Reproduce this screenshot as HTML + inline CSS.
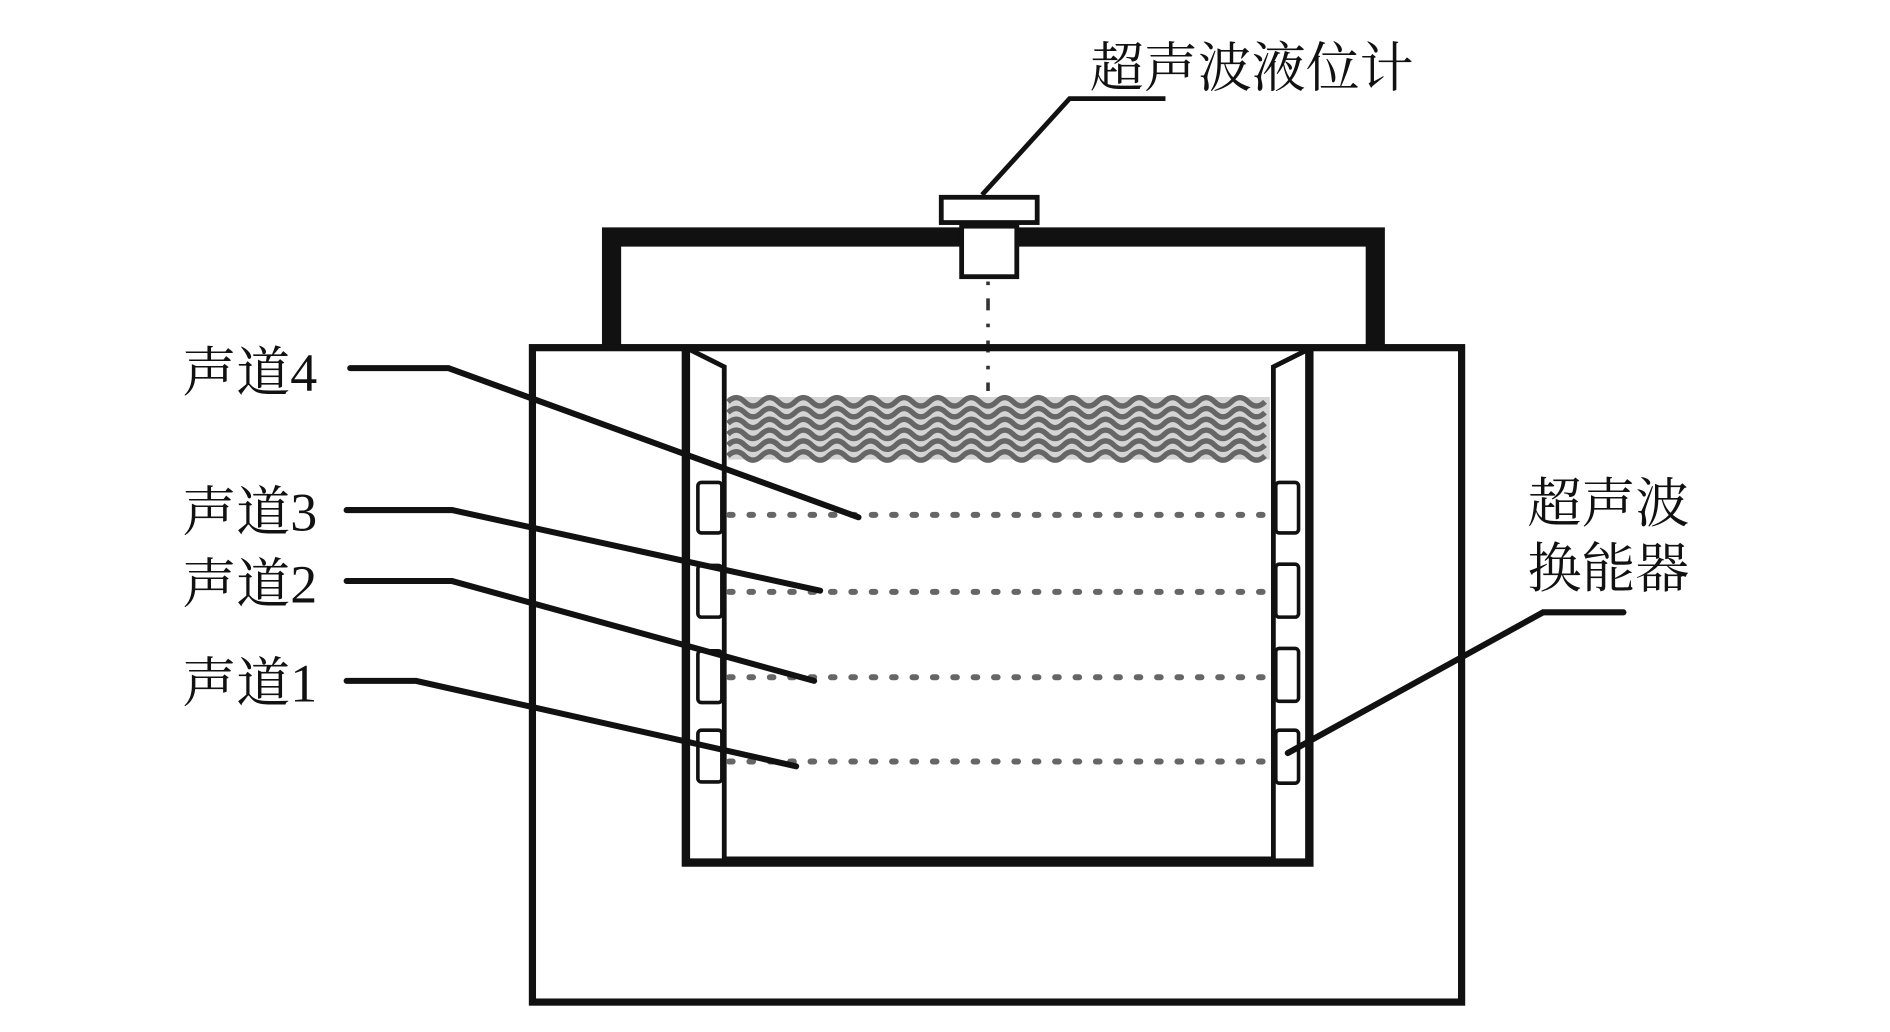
<!DOCTYPE html>
<html><head><meta charset="utf-8"><style>
html,body{margin:0;padding:0;background:#fff;}
svg{display:block;}
text{font-family:"Liberation Serif","Noto Serif CJK SC",serif;font-size:45px;fill:#111;}
</style></head><body>
<svg width="1890" height="1032" viewBox="0 0 1548 845" preserveAspectRatio="none" xmlns="http://www.w3.org/2000/svg">
<rect width="1548" height="845" fill="#fff"/>
<g transform="translate(4,0) scale(0.982,0.985)">
<!-- lid bracket -->
<path d="M506 289 V197 H797 M845 197 H1143 V289" fill="none" stroke="#111" stroke-width="16" stroke-linejoin="miter"/>
<!-- sensor -->
<rect x="781" y="164" width="80" height="21" fill="#fff" stroke="#111" stroke-width="4"/>
<rect x="798" y="188" width="46" height="42" fill="#fff" stroke="#111" stroke-width="4"/>
<line x1="820" y1="234" x2="820" y2="325" stroke="#333" stroke-width="3" stroke-dasharray="3 11 10 11"/>
<!-- sensor leader -->
<path d="M815 162 L888 82 H968" fill="none" stroke="#111" stroke-width="4"/>
<text x="905" y="72">超声波液位计</text>
<!-- outer box -->
<rect x="440" y="289" width="775" height="544" fill="none" stroke="#111" stroke-width="6"/>
<!-- inner U -->
<path d="M568 289 V717 H1088 V289" fill="none" stroke="#111" stroke-width="7"/>
<!-- panels -->
<path d="M572 291 L600 305 V714 H1058 V305 L1086 291" fill="none" stroke="#111" stroke-width="4"/>
<!-- water waves -->
<rect x="603" y="330" width="452" height="52" fill="#aaa" opacity="0.5"/>
<g fill="none" stroke="#666" stroke-width="4.5">
<path id="w" d="M603 334 q7 -7 14 0 t14 0 t14 0 t14 0 t14 0 t14 0 t14 0 t14 0 t14 0 t14 0 t14 0 t14 0 t14 0 t14 0 t14 0 t14 0 t14 0 t14 0 t14 0 t14 0 t14 0 t14 0 t14 0 t14 0 t14 0 t14 0 t14 0 t14 0 t14 0 t14 0 t14 0 t14 0"/>
<use href="#w" y="9"/><use href="#w" y="18"/><use href="#w" y="27"/><use href="#w" y="36"/><use href="#w" y="45"/>
</g>
<!-- dotted channels -->
<g stroke="#666" stroke-width="5" stroke-linecap="round" stroke-dasharray="3 14">
<line x1="604" y1="428" x2="1056" y2="428"/>
<line x1="604" y1="492" x2="1056" y2="492"/>
<line x1="604" y1="563" x2="1056" y2="563"/>
<line x1="604" y1="633" x2="1056" y2="633"/>
</g>
<!-- transducers -->
<g fill="#fff" stroke="#111" stroke-width="3">
<rect x="578" y="401" width="20" height="42" rx="3"/>
<rect x="578" y="470" width="20" height="43" rx="3"/>
<rect x="578" y="541" width="20" height="43" rx="3"/>
<rect x="578" y="607" width="20" height="43" rx="3"/>
<rect x="1060" y="401" width="19" height="42" rx="3"/>
<rect x="1060" y="469" width="19" height="44" rx="3"/>
<rect x="1060" y="539" width="19" height="44" rx="3"/>
<rect x="1060" y="607" width="19" height="44" rx="3"/>
</g>
<!-- channel leaders -->
<g fill="none" stroke="#111" stroke-width="5" stroke-linecap="round">
<path d="M288 306 H370 L712 430"/>
<path d="M285 424 H373 L680 491"/>
<path d="M285 483 H373 L675 566"/>
<path d="M285 566 H343 L660 637"/>
<path d="M1350 509 H1283 L1070 626"/>
</g>
<text x="148" y="325">声道4</text>
<text x="148" y="441">声道3</text>
<text x="148" y="501">声道2</text>
<text x="148" y="583">声道1</text>
<text x="1270" y="434">超声波</text>
<text x="1270" y="488">换能器</text>
</g>
</svg>
</body></html>
